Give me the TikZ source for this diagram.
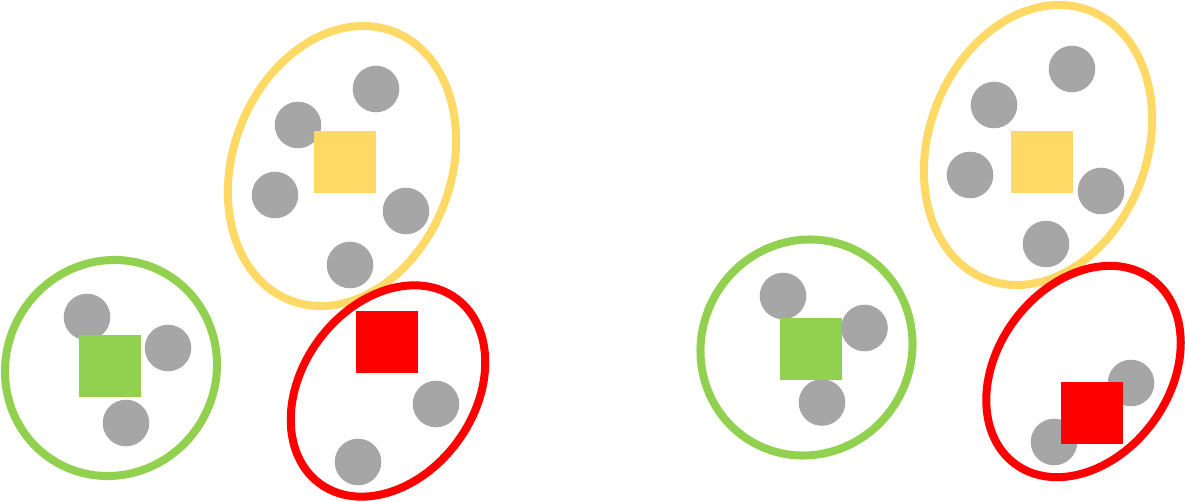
\documentclass[tikz,border=0pt]{standalone}
\usetikzlibrary{shapes.geometric}
\definecolor{cyel}{HTML}{FFD966}
\definecolor{cgrn}{HTML}{92D050}
\definecolor{cred}{HTML}{FF0000}
\definecolor{cgry}{HTML}{A6A6A6}
\begin{document}
\begin{tikzpicture}[x=1pt,y=-1pt,
 pt/.style={circle,fill=cgry,minimum size=46.6pt,inner sep=0pt,outer sep=0pt},
 ctr/.style={rectangle,fill=#1,minimum size=62pt,inner sep=0pt,outer sep=0pt},
 clus/.style={ellipse,draw=#1,line width=8pt,inner sep=0pt}]
\useasboundingbox (0,0) rectangle (1185,502);
% ---------- left panel: clusters ----------
\node[clus=cyel,minimum width=218pt,minimum height=288pt,rotate=-21] (LY) at (342,166) {};
\node[clus=cred,minimum width=172pt,minimum height=230pt,rotate=-36.5] (LR) at (388,391) {};
\node[clus=cgrn,minimum width=210pt,minimum height=218pt,rotate=-30] (LG) at (111,368) {};
% left points
\node[pt] (ly1) at (376,89) {};
\node[pt] (ly2) at (298,125) {};
\node[pt] (ly3) at (275,195) {};
\node[pt] (ly4) at (406,211) {};
\node[pt] (ly5) at (350,265) {};
\node[pt] (lr1) at (436,404) {};
\node[pt] (lr2) at (358,462) {};
\node[pt] (lg1) at (87,317) {};
\node[pt] (lg2) at (168,348) {};
\node[pt] (lg3) at (126,423) {};
% left centroids
\node[ctr=cyel] (lyc) at (345,162) {};
\node[ctr=cred] (lrc) at (387,342) {};
\node[ctr=cgrn] (lgc) at (110,366) {};
% ---------- right panel: clusters ----------
\node[clus=cyel,minimum width=218pt,minimum height=288pt,rotate=-21] (RY) at (1038,145) {};
\node[clus=cred,minimum width=172pt,minimum height=230pt,rotate=-36.5] (RR) at (1083.5,371.5) {};
\node[clus=cgrn,minimum width=210pt,minimum height=218pt,rotate=-30] (RG) at (806.5,347.5) {};
% right points
\node[pt] (ry1) at (1072,69) {};
\node[pt] (ry2) at (994,105) {};
\node[pt] (ry3) at (970,175) {};
\node[pt] (ry4) at (1101,191) {};
\node[pt] (ry5) at (1046,244) {};
\node[pt] (rr1) at (1131,383) {};
\node[pt] (rr2) at (1054,442) {};
\node[pt] (rg1) at (783,296) {};
\node[pt] (rg2) at (864.5,328) {};
\node[pt] (rg3) at (822,402.5) {};
% right centroids
\node[ctr=cyel] (ryc) at (1042,162) {};
\node[ctr=cred] (rrc) at (1092,413) {};
\node[ctr=cgrn] (rgc) at (811,349) {};
\end{tikzpicture}
\end{document}
